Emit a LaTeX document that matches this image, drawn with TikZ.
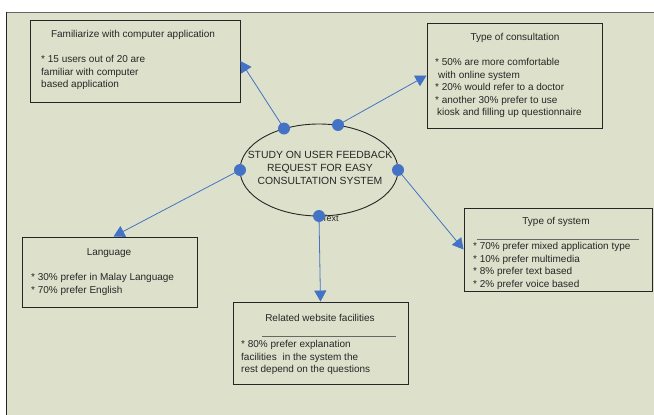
\documentclass[tikz,border=0pt]{standalone}
\usepackage{fontspec}
\setmainfont{Liberation Sans}
\usetikzlibrary{arrows.meta}
\definecolor{panel}{HTML}{DDE1CB}
\definecolor{dotblue}{HTML}{4472C4}
\definecolor{ink}{HTML}{262626}
\tikzset{
  box/.style={draw=ink, line width=0.9pt, fill=panel, inner sep=0pt},
  title/.style={text=ink, font=\fontsize{10}{12}\selectfont, inner sep=0pt},
  body/.style={text=ink, font=\fontsize{10}{12.4}\selectfont, inner sep=0pt, align=left, anchor=north west},
  dot/.style={circle, fill=dotblue, minimum size=12pt, inner sep=0pt},
  link/.style={draw=dotblue, line width=0.8pt, -{Triangle[length=11pt,width=12pt]}},
  sep/.style={draw=ink!70, line width=0.5pt}
}
\begin{document}
\begin{tikzpicture}[x=1pt,y=-1pt]
\useasboundingbox (0,0) rectangle (654,415);
\fill[white] (0,0) rectangle (654,415);
\fill[panel] (6,12) rectangle (654,415);
\draw[gray!80!black, line width=1pt] (6,12) -- (654,12);
\draw[ink, line width=1pt] (6,12) -- (6,415);

% boxes
\node[box, minimum width=210pt, minimum height=82pt] (fam) at (135,61) {};
\node[box, minimum width=175pt, minimum height=105pt] (cons) at (514.5,75.5) {};
\node[box, minimum width=175pt, minimum height=70pt] (lang) at (109.5,272) {};
\node[box, minimum width=188pt, minimum height=83pt] (sys) at (558,249.5) {};
\node[box, minimum width=175pt, minimum height=82pt] (web) at (320.5,343) {};

% ellipse
\draw[ink, line width=0.9pt] (319,170) ellipse (79pt and 46pt);
\node[title, align=center, font=\fontsize{10.4}{12.8}\selectfont] (study) at (320,168)
  {STUDY ON USER FEEDBACK\\REQUEST FOR EASY\\CONSULTATION SYSTEM};
\node[title, anchor=west, font=\fontsize{9}{10}\selectfont] (txt) at (322,218) {Text};

% box texts
\node[title] (famt) at (133,35) {Familiarize with computer application};
\node[body] (famb) at (41,55.5) {* 15 users out of 20 are\\familiar with computer\\based application};

\node[title] (const) at (515,38) {Type of consultation};
\node[body] (consb) at (435,58.5) {* 50\% are more comfortable\\\hspace{3pt}with online system\\* 20\% would refer to a doctor\\* another 30\% prefer to use\\\hspace{2pt}kiosk and filling up questionnaire};

\node[title] (langt) at (109,253) {Language};
\node[body] (langb) at (31,273.5) {* 30\% prefer in Malay Language\\* 70\% prefer English};

\node[title] (syst) at (556,222) {Type of system};
\draw[sep] (477,239) -- (639,239);
\node[body] (sysb) at (473,242.5) {* 70\% prefer mixed application type\\* 10\% prefer multimedia\\* 8\% prefer text based\\* 2\% prefer voice based};

\node[title] (webt) at (320,318) {Related website facilities};
\draw[sep] (262,336) -- (396,336);
\node[body] (webb) at (241,340.5) {* 80\% prefer explanation\\facilities\hspace{3pt} in the system the\\rest depend on the questions};

% dots and links
\coordinate (p1) at (284,128.5);
\coordinate (p2) at (338,125);
\coordinate (p3) at (240,170);
\coordinate (p4) at (398,170);
\coordinate (p5) at (319,216);
\draw[link] (p1) -- (fam.east);
\draw[link] (p2) -- (cons.west);
\draw[link] (p3) -- ([xshift=4pt]lang.north);
\draw[link] (p4) -- (sys.west);
\draw[link] (p5) -- (web.north);
\node[dot] (d1) at (p1) {};
\node[dot] (d2) at (p2) {};
\node[dot] (d3) at (p3) {};
\node[dot] (d4) at (p4) {};
\node[dot] (d5) at (p5) {};
\end{tikzpicture}
\end{document}
